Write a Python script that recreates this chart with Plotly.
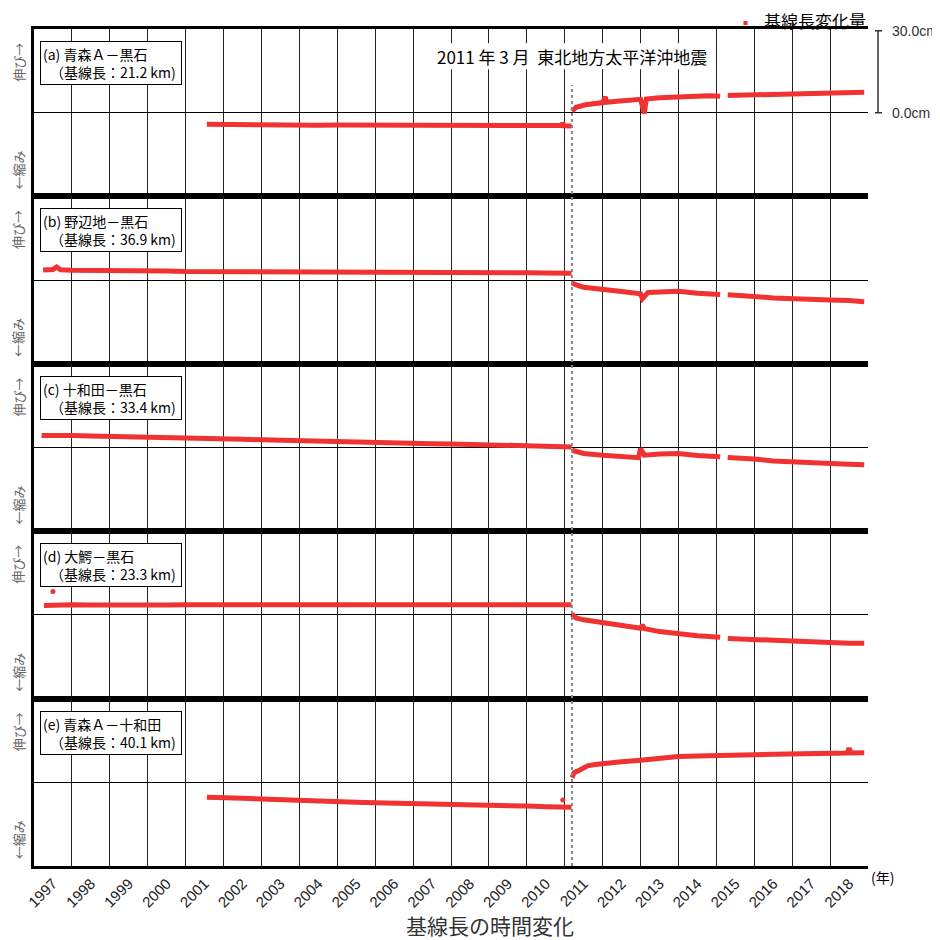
import plotly.graph_objects as go
from plotly.subplots import make_subplots

RED = "#F03232"
FONT = "Noto Sans CJK JP"

YEARS = [1997, 1998, 1999, 2000, 2001, 2002, 2003, 2004, 2005, 2006, 2007,
         2008, 2009, 2010, 2011, 2012, 2013, 2014, 2015, 2016, 2017, 2018]
QUAKE_T = 2011.19
QUAKE_TEXT = "2011 年 3 月  東北地方太平洋沖地震"

PANEL_NAMES = ["(a) 青森Ａ－黒石", "(b) 野辺地－黒石", "(c) 十和田－黒石",
               "(d) 大鰐－黒石", "(e) 青森Ａ－十和田"]
BASELINES_KM = ["21.2", "36.9", "33.4", "23.3", "40.1"]

# (a) 青森A-黒石
T_A = [2001.56, 2002.0, 2002.5, 2003.0, 2003.5, 2004.0, 2004.5, 2005.0, 2005.5, 2006.0,
       2006.5, 2007.0, 2007.5, 2008.0, 2008.5, 2009.0, 2009.5, 2010.0, 2010.5, 2010.93,
       2010.95, 2010.97, 2011.18, None, 2011.19, 2011.3, 2011.55, 2011.8, 2012.0, 2012.07,
       2012.1, 2012.45, 2012.75, 2013.0, 2013.1, 2013.15, 2013.5, 2014.0, 2014.5, 2014.8,
       2015.1, None, 2015.3, 2015.6, 2016.0, 2016.5, 2017.0, 2017.5, 2018.0, 2018.5, 2018.9]
V_A = [-4.2, -4.3, -4.4, -4.5, -4.4, -4.6, -4.6, -4.5, -4.5, -4.6,
       -4.5, -4.5, -4.4, -4.4, -4.5, -4.4, -4.3, -4.4, -4.5, -4.7,
       -3.6, -4.8, -4.9, None, 0.6, 2.0, 2.9, 3.4, 3.7, 5.8,
       3.8, 4.3, 4.6, 4.9, -0.3, 5.0, 5.5, 5.9, 6.1, 6.2,
       6.0, None, 6.3, 6.4, 6.5, 6.8, 7.0, 7.2, 7.4, 7.6, 7.5]

# (b) 野辺地-黒石
T_B = [1997.24, 1997.5, 1997.6, 1997.7, 1998.0, 1998.5, 1999.0, 1999.5, 2000.0, 2000.5,
       2001.0, 2001.5, 2002.0, 2002.5, 2003.0, 2003.5, 2004.0, 2004.5, 2005.0, 2005.5,
       2006.0, 2006.5, 2007.0, 2007.5, 2008.0, 2008.5, 2009.0, 2009.5, 2010.0, 2010.5,
       2011.18, None, 2011.19, 2011.3, 2011.5, 2011.75, 2012.0, 2012.5, 2013.0, 2013.05,
       2013.2, 2013.5, 2014.0, 2014.5, 2015.1, None, 2015.3, 2015.7, 2016.0, 2016.5,
       2017.0, 2017.5, 2018.0, 2018.5, 2018.9]
V_B = [3.7, 3.9, 4.8, 3.8, 3.6, 3.6, 3.5, 3.4, 3.4, 3.3,
       3.1, 3.1, 3.1, 3.0, 3.1, 3.0, 3.0, 3.1, 3.0, 3.1,
       3.0, 3.1, 3.0, 3.0, 3.1, 3.0, 2.9, 2.9, 2.7, 2.6,
       2.5, None, -1.0, -1.8, -2.6, -3.1, -3.6, -4.2, -5.0, -6.8,
       -4.5, -4.3, -4.1, -4.8, -5.3, None, -5.4, -5.6, -6.0, -6.5,
       -6.9, -7.1, -7.3, -7.5, -7.9]

# (c) 十和田-黒石
T_C = [1997.2, 1997.5, 1998.0, 1998.5, 1999.0, 1999.5, 2000.0, 2000.5, 2001.0, 2001.5,
       2002.0, 2002.5, 2003.0, 2003.5, 2004.0, 2004.5, 2005.0, 2005.5, 2006.0, 2006.5,
       2007.0, 2007.5, 2008.0, 2008.5, 2009.0, 2009.5, 2010.0, 2010.5, 2011.18, None,
       2011.19, 2011.5, 2012.0, 2012.5, 2012.95, 2013.0, 2013.1, 2013.5, 2014.0, 2014.5,
       2015.1, None, 2015.3, 2015.7, 2016.0, 2016.5, 2017.0, 2017.5, 2018.0, 2018.5, 2018.9]
V_C = [4.4, 4.5, 4.4, 4.2, 4.1, 3.9, 3.8, 3.7, 3.5, 3.3,
       3.2, 3.0, 2.8, 2.6, 2.5, 2.3, 2.1, 1.9, 1.8, 1.6,
       1.5, 1.4, 1.3, 1.1, 1.0, 0.8, 0.6, 0.4, 0.2, None,
       -1.0, -2.2, -2.8, -3.4, -3.7, -0.4, -2.8, -2.4, -2.2, -2.9,
       -3.4, None, -3.7, -3.9, -4.2, -4.9, -5.3, -5.6, -5.8, -6.1, -6.3]

# (d) 大鰐-黒石
T_D = [1997.26, 1997.5, 1998.0, 1998.5, 1999.0, 1999.5, 2000.0, 2000.5, 2001.0, 2001.5,
       2002.0, 2002.5, 2003.0, 2003.5, 2004.0, 2004.5, 2005.0, 2005.5, 2006.0, 2006.5,
       2007.0, 2007.5, 2008.0, 2008.5, 2009.0, 2009.5, 2010.0, 2010.5, 2011.18, None,
       2011.19, 2011.3, 2011.5, 2012.0, 2012.5, 2013.0, 2013.05, 2013.1, 2013.5, 2014.0,
       2014.5, 2015.1, None, 2015.3, 2016.0, 2016.5, 2017.0, 2017.5, 2018.0, 2018.5, 2018.9]
V_D = [3.4, 3.6, 3.7, 3.6, 3.5, 3.6, 3.7, 3.6, 3.7, 3.7,
       3.8, 3.7, 3.9, 3.8, 3.9, 3.9, 3.8, 3.9, 3.9, 3.9,
       3.8, 3.9, 3.8, 3.8, 3.8, 3.8, 3.8, 3.8, 3.7, None,
       0.3, -1.1, -1.8, -2.9, -3.9, -4.9, -3.7, -5.0, -6.1, -7.0,
       -7.6, -8.2, None, -8.6, -9.0, -9.4, -9.8, -10.0, -10.2, -10.4, -10.4]
OUT_D_T = [1997.5]
OUT_D_V = [8.6]

# (e) 青森A-十和田
T_E = [2001.56, 2002.0, 2002.5, 2003.0, 2003.5, 2004.0, 2004.5, 2005.0, 2005.5, 2006.0,
       2006.5, 2007.0, 2007.5, 2008.0, 2008.5, 2009.0, 2009.5, 2010.0, 2010.5, 2011.18,
       None, 2011.19, 2011.25, 2011.4, 2011.6, 2011.8, 2012.0, 2012.5, 2013.0, 2013.5,
       2014.0, 2014.5, 2015.0, 2015.5, 2016.0, 2016.5, 2017.0, 2017.5, 2018.0, 2018.45,
       2018.5, 2018.55, 2018.9]
V_E = [-5.5, -5.5, -5.8, -6.1, -6.4, -6.8, -7.0, -7.2, -7.3, -7.5,
       -7.6, -7.7, -7.8, -7.9, -8.1, -8.2, -8.3, -8.7, -8.9, -9.1,
       None, 1.7, 3.5, 4.5, 6.0, 6.5, 6.9, 7.5, 8.1, 8.8,
       9.4, 9.6, 9.9, 10.0, 10.1, 10.3, 10.3, 10.5, 10.6, 10.7,
       12.5, 10.7, 10.8]
OUT_E_T = [2010.95]
OUT_E_V = [-6.5]

SCALE_TICKS = [0, 30]
SCALE_LABELS = ["0.0cm", "30.0cm"]

SERIES = [(T_A, V_A, [], []), (T_B, V_B, [], []), (T_C, V_C, [], []),
          (T_D, V_D, OUT_D_T, OUT_D_V), (T_E, V_E, OUT_E_T, OUT_E_V)]

fig = make_subplots(rows=5, cols=1, shared_xaxes=True, vertical_spacing=0)

for i, (t, v, ot, ov) in enumerate(SERIES, start=1):
    fig.add_trace(go.Scatter(x=t, y=v, mode="lines", connectgaps=False,
                             line=dict(color=RED, width=5), showlegend=False,
                             hoverinfo="skip"), row=i, col=1)
    if ot:
        fig.add_trace(go.Scatter(x=ot, y=ov, mode="markers",
                                 marker=dict(color=RED, size=5), showlegend=False,
                                 hoverinfo="skip"), row=i, col=1)

mid = [y + 0.5 for y in YEARS]
grid = YEARS[1:]
for i in range(1, 6):
    fig.update_yaxes(row=i, col=1, range=[-30.6, 30.6], showticklabels=False, ticks="",
                     showgrid=False, zeroline=True, zerolinecolor="black", zerolinewidth=1,
                     showline=True, linecolor="black", linewidth=3)
    fig.update_xaxes(row=i, col=1, range=[1997, 2019], showline=True, mirror=True,
                     linecolor="black", linewidth=3, showgrid=False, ticks="",
                     tickvals=mid, ticktext=[str(y) for y in YEARS],
                     minor=dict(tickvals=grid, showgrid=True, gridcolor="#222",
                                gridwidth=1, ticks=""))
fig.update_xaxes(row=5, col=1, tickangle=-45,
                 tickfont=dict(family="Liberation Sans", size=15, color="#222"))

shapes = []
# quake dashed line
shapes.append(dict(type="line", xref="x", yref="paper", x0=QUAKE_T, x1=QUAKE_T,
                   y0=0, y1=0.933, line=dict(color="#888", width=2, dash="dot"),
                   layer="above"))
# white box behind quake text
shapes.append(dict(type="rect", xref="x", yref="y", x0=2007.03, x1=2014.97,
                   y0=15.9, y1=25.4, fillcolor="white", line=dict(width=0),
                   layer="between"))
# scale bar
shapes.append(dict(type="line", xref="paper", yref="y", x0=1.012, x1=1.012,
                   y0=SCALE_TICKS[0], y1=SCALE_TICKS[1], line=dict(color="#333", width=1.5)))
for s in SCALE_TICKS:
    shapes.append(dict(type="line", xref="paper", yref="y", x0=1.0084, x1=1.0168,
                       y0=s, y1=s, line=dict(color="#333", width=1.5)))

annotations = []
for i, (name, km) in enumerate(zip(PANEL_NAMES, BASELINES_KM), start=1):
    yref = "y domain" if i == 1 else f"y{i} domain"
    annotations.append(dict(text=f"{name}<br>　（基線長：{km} km) ", xref="paper", yref=yref,
                            x=0.0072, y=0.928, xanchor="left", yanchor="top", align="left",
                            showarrow=False, bgcolor="white", bordercolor="black",
                            borderwidth=1, borderpad=2,
                            font=dict(family=FONT, size=14, color="black")))
    annotations.append(dict(text="伸び→", xref="paper", yref=yref, x=-0.019, y=0.80,
                            xanchor="center", yanchor="middle", textangle=-90,
                            showarrow=False, font=dict(family=FONT, size=13, color="#666")))
    annotations.append(dict(text="←縮み", xref="paper", yref=yref, x=-0.019, y=0.155,
                            xanchor="center", yanchor="middle", textangle=-90,
                            showarrow=False, font=dict(family=FONT, size=13, color="#666")))

annotations.append(dict(text=QUAKE_TEXT, xref="x", yref="y", x=QUAKE_T, y=20.4,
                        xanchor="center", yanchor="middle", showarrow=False,
                        font=dict(family=FONT, size=17, color="black")))
for s, lab in zip(SCALE_TICKS, SCALE_LABELS):
    annotations.append(dict(text=lab, xref="paper", yref="y", x=1.026, y=s,
                            xanchor="left", yanchor="middle", showarrow=False,
                            font=dict(family="Liberation Sans", size=14, color="#333")))
annotations.append(dict(text="基線長変化量", xref="paper", yref="paper", x=1.0, y=1.0,
                        xanchor="right", yanchor="bottom", yshift=-6, showarrow=False,
                        font=dict(family=FONT, size=17, color="black")))
annotations.append(dict(text="■", xref="paper", yref="paper", x=0.853, y=1.0,
                        xanchor="center", yanchor="bottom", yshift=2, showarrow=False,
                        font=dict(family=FONT, size=5, color=RED)))
annotations.append(dict(text="(年)", xref="paper", yref="paper", x=1.017, y=-0.013,
                        xanchor="center", yanchor="middle", showarrow=False,
                        font=dict(family=FONT, size=14, color="black")))
annotations.append(dict(text="基線長の時間変化", xref="paper", yref="paper", x=0.547,
                        y=-0.0705, xanchor="center", yanchor="middle", showarrow=False,
                        font=dict(family=FONT, size=21, color="#333")))

# page body has an 8px margin: size the figure so the plot area lands where the reference has it
fig.update_layout(width=932, height=932, margin=dict(l=26, r=72, t=21, b=74),
                  plot_bgcolor="white", paper_bgcolor="white",
                  font=dict(family=FONT, size=14, color="black"),
                  shapes=shapes, annotations=annotations, showlegend=False)

fig.write_html("out.html")
